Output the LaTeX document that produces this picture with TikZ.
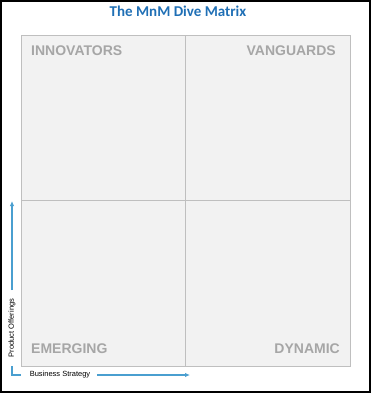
\documentclass[tikz,border=0pt]{standalone}
\usepackage{fontspec}
\setmainfont{Liberation Sans}
\newfontfamily\titlefont{Carlito}
\usetikzlibrary{arrows.meta}
\definecolor{titleblue}{HTML}{1F6FB5}
\definecolor{gridgray}{HTML}{BFBFBF}
\definecolor{quadfill}{HTML}{F2F2F2}
\definecolor{labgray}{HTML}{A6A6A6}
\definecolor{axisblue}{HTML}{4A9FD0}
\begin{document}
\begin{tikzpicture}[x=1pt,y=-1pt,
  quad/.style={draw=gridgray,fill=quadfill,line width=1pt},
  qlabel/.style={text=labgray,font=\bfseries\fontsize{14}{15}\selectfont,inner sep=0pt},
  axislabel/.style={font=\fontsize{7.5}{8}\selectfont,inner sep=0pt},
  axisarrow/.style={draw=axisblue,line width=1.4pt,-{Latex[length=5pt,width=4.5pt]}}]
\useasboundingbox (0,0) rectangle (372,394);
\draw[line width=1.2pt] (1,1) rectangle (370,392);
\node[text=titleblue,font=\titlefont\bfseries\fontsize{15}{16}\selectfont] (title) at (178,11) {The MnM Dive Matrix};
\draw[quad] (21,35) rectangle (185,200);
\draw[quad] (185,35) rectangle (350,200);
\draw[quad] (21,200) rectangle (185,366);
\draw[quad] (185,200) rectangle (350,366);
\node[qlabel,anchor=west] (innov) at (31,51) {INNOVATORS};
\node[qlabel,anchor=east] (vang) at (336,51) {VANGUARDS};
\node[qlabel,anchor=west] (emerg) at (31,349) {EMERGING};
\node[qlabel,anchor=east] (dyn) at (340,349) {DYNAMIC};
\coordinate (ytop) at (12,201);
\coordinate (ybot) at (12,290);
\coordinate (corner) at (12,375);
\coordinate (cornerv) at (12,366);
\coordinate (cornerh) at (21,375);
\coordinate (xstart) at (97,375);
\coordinate (xend) at (190,375);
\draw[axisarrow] (ybot) -- (ytop);
\draw[axisarrow] (xstart) -- (xend);
\draw[draw=axisblue,line width=1.4pt] (cornerv) -- (corner) -- (cornerh);
\node[axislabel,rotate=90] (prod) at (12,328) {Product Offerings};
\node[axislabel] (bus) at (60,375) {Business Strategy};
\end{tikzpicture}
\end{document}
